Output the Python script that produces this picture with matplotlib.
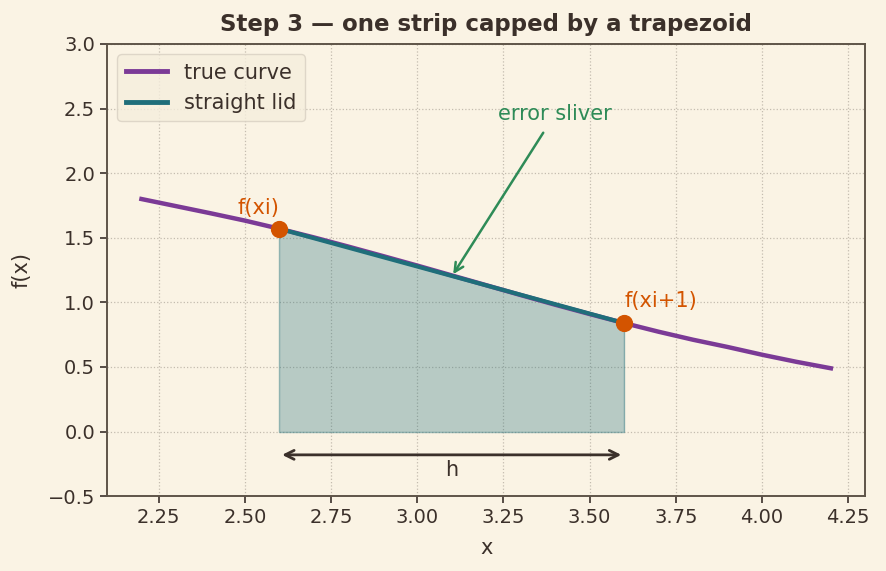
import matplotlib
matplotlib.use("Agg")
import matplotlib.pyplot as plt
import numpy as np

# Data
curve_x = [2.2, 2.3, 2.4, 2.5, 2.6, 2.7, 2.8, 2.9, 3.0, 3.1, 3.2,
           3.3, 3.4, 3.5, 3.6, 3.7, 3.8, 3.9, 4.0, 4.1, 4.2]
curve_y = [1.80, 1.745, 1.69, 1.633, 1.57, 1.503, 1.432, 1.359, 1.285, 1.209, 1.133,
           1.057, 0.982, 0.910, 0.840, 0.773, 0.711, 0.655, 0.595, 0.54, 0.49]
strip_x = [2.6, 3.6]
strip_y = [1.57, 0.84]
xticks = [2.25, 2.50, 2.75, 3.00, 3.25, 3.50, 3.75, 4.00, 4.25]
yticks = [-0.5, 0.0, 0.5, 1.0, 1.5, 2.0, 2.5, 3.0]

BG = "#FAF3E4"
INK = "#3B302A"
PURPLE = "#7B3A96"
TEAL = "#1F6E7A"
ORANGE = "#D35400"
GREEN = "#2E8B57"

plt.rcParams['font.family'] = ['DejaVu Sans']
fig = plt.figure(figsize=(8.87, 5.71), dpi=100, facecolor=BG)
ax = fig.add_axes([0.1206, 0.131, 0.855, 0.792])
ax.set_facecolor(BG)

ax.plot(curve_x, curve_y, color=PURPLE, lw=3.2, label="true curve", zorder=3)
ax.fill_between(strip_x, strip_y, [0, 0], color=TEAL, alpha=0.3, lw=0, zorder=2)
ax.plot([strip_x[0], strip_x[0], strip_x[1], strip_x[1]],
        [strip_y[0], 0, 0, strip_y[1]], color=TEAL, alpha=0.45, lw=1.0, zorder=2)
ax.plot(strip_x, strip_y, color=TEAL, lw=3.0, label="straight lid", zorder=4)
ax.scatter(strip_x, strip_y, s=130, color=ORANGE, zorder=5)

ax.text(strip_x[0], strip_y[0] + 0.08, "f(xi)", color=ORANGE, fontsize=15,
        ha='right', va='bottom')
ax.text(strip_x[1], strip_y[1] + 0.09, "f(xi+1)", color=ORANGE, fontsize=15,
        ha='left', va='bottom')

ax.annotate("error sliver", xy=(3.1, 1.2), xytext=(3.4, 2.38),
            color=GREEN, fontsize=15, ha='center', va='bottom',
            arrowprops=dict(arrowstyle='->', color=GREEN, lw=1.8,
                            shrinkA=5, shrinkB=2, mutation_scale=16),
            zorder=6)

ax.annotate("", xy=(strip_x[0], -0.18), xytext=(strip_x[1], -0.18),
            arrowprops=dict(arrowstyle='<->', color=INK, lw=2.0,
                            shrinkA=2, shrinkB=2, mutation_scale=16))
ax.text(3.1, -0.30, "h", color=INK, fontsize=15, ha='center', va='center')

ax.set_xlim(2.1, 4.3)
ax.set_ylim(-0.5, 3.0)
ax.set_xticks(xticks)
ax.set_yticks(yticks)
ax.set_xticklabels([f"{t:.2f}" for t in xticks])
ax.set_yticklabels([f"{t:.1f}".replace("-", "\u2212") for t in yticks])
ax.tick_params(colors=INK, labelsize=14, length=5, width=1.2)
ax.grid(True, linestyle=':', color="#C4BCAF", lw=0.9, zorder=0)
ax.set_axisbelow(True)
for s in ax.spines.values():
    s.set_color("#5E5448")
    s.set_linewidth(1.4)

ax.set_xlabel("x", color=INK, fontsize=15, labelpad=8)
ax.set_ylabel("f(x)", color=INK, fontsize=15, labelpad=12)
ax.set_title("Step 3 \u2014 one strip capped by a trapezoid", color=INK,
             fontsize=16.5, fontweight='bold', pad=9)

leg = ax.legend(loc='upper left', fontsize=15, frameon=True, handlelength=2.0)
leg.get_frame().set_facecolor("#F5EEDD")
leg.get_frame().set_edgecolor("#D8D0C2")
for t in leg.get_texts():
    t.set_color(INK)
for l in leg.get_lines():
    l.set_linewidth(3.5)

fig.savefig("out.png", dpi=100, facecolor=BG)
